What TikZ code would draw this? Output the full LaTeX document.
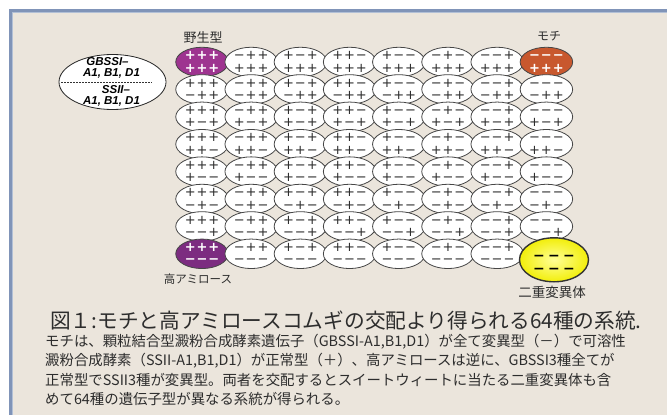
\documentclass[tikz,border=0pt]{standalone}
\usepackage{fontspec}
\setmainfont{Noto Sans CJK JP}
\newfontfamily\symf{DejaVu Sans}
\newfontfamily\keyf{Liberation Sans}
\usetikzlibrary{shapes.geometric}
\definecolor{bgc}{RGB}{235,229,220}
\definecolor{framec}{RGB}{128,148,184}
\definecolor{framelc}{RGB}{178,192,214}
\definecolor{wildc}{RGB}{158,52,144}
\definecolor{hac}{RGB}{124,44,128}
\definecolor{mochic}{RGB}{200,88,46}
\definecolor{yelc}{RGB}{242,238,10}
\definecolor{yelin}{RGB}{255,255,150}
\definecolor{edgec}{RGB}{70,70,70}
\definecolor{symc}{RGB}{45,45,45}
\definecolor{txtc}{RGB}{45,45,45}
\def\sgw{11.8pt}
\def\tlsep{12.4pt}
\def\tlraise{-10pt}
\newcommand\sg[1]{\makebox[\sgw]{\if#1p+\else−\fi}}
\newcommand\twoline[2]{\smash{\raisebox{\tlraise}{\vbox{\baselineskip=\tlsep\relax\lineskiplimit=-100pt\hbox{#1}\hbox{#2}}}}}
\tikzset{
  cell/.style={ellipse, draw=edgec, line width=0.8pt, fill=white, inner sep=0pt,
    minimum width=52.5pt, minimum height=29.5pt, text=symc,
    font=\symf\fontsize{13}{13}\selectfont},
  whitesym/.style={text=white, font=\symf\bfseries\fontsize{13}{13}\selectfont},
  st-0-0/.style={fill=wildc, whitesym},
  st-0-7/.style={fill=mochic, whitesym},
  st-7-0/.style={fill=hac, whitesym},
  st-7-7/.style={xshift=7.6pt, yshift=-6pt, minimum width=69pt, minimum height=44pt,
    line width=1.4pt, draw=black!80, inner color=yelin, outer color=yelc, text=black,
    font=\symf\bfseries\fontsize{14}{14}\selectfont,
    execute at begin node={\def\sgw{15pt}\def\tlsep{13.4pt}\def\tlraise{-13.6pt}}},
  lab/.style={text=txtc, inner sep=0pt},
  keytxt/.style={font=\keyf\bfseries\itshape\fontsize{11.5}{11.5}\selectfont, inner sep=0pt, text=black}
}
\begin{document}
\begin{tikzpicture}[x=1pt,y=-1pt]
\useasboundingbox (0,0) rectangle (667,415);
% frame
\fill[white] (0,0) rectangle (667,415);
\fill[bgc] (10,10) rectangle (667,415);
\draw[framec, line width=2.6pt] (10.3,415) -- (10.3,10.3) -- (667,10.3);
\draw[framelc, line width=0.8pt] (12.2,415) -- (12.2,12.2) -- (667,12.2);
% grid of 64 lines
\foreach \r/\ra/\rb/\rc in {0/p/p/p,1/m/p/p,2/p/m/p,3/p/p/m,4/p/m/m,5/m/p/m,6/m/m/p,7/m/m/m}{
  \foreach \c/\ca/\cb/\cc in {0/p/p/p,1/m/p/p,2/p/m/p,3/p/p/m,4/p/m/m,5/m/p/m,6/m/m/p,7/m/m/m}{
    \node[cell, st-\r-\c/.try] (n-\r-\c) at ({202+49.2*\c},{62+27.4*\r})
      {\twoline{\sg\ca\sg\cb\sg\cc}{\sg\ra\sg\rb\sg\rc}};
  }
}
% labels
\node[lab, font=\fontsize{13}{13}\selectfont] (lab-wild) at (203,38) {野生型};
\node[lab, font=\fontsize{12}{12}\selectfont] (lab-mochi) at (549,36) {モチ};
\node[lab, font=\fontsize{11.5}{11.5}\selectfont] (lab-ha) at (198,279) {高アミロース};
\node[lab, font=\fontsize{13.5}{13.5}\selectfont] (lab-dm) at (552,292) {二重変異体};
% key ellipse
\node[ellipse, draw=black!85, line width=0.8pt, fill=white, minimum width=107pt, minimum height=55pt, inner sep=0pt] (key) at (112.5,82) {};
\node[keytxt] (k1) at (107.5,61.5) {GBSSI–};
\node[keytxt] (k2) at (111.5,73.5) {A1, B1, D1};
\node[keytxt] (k3) at (116,90) {SSII–};
\node[keytxt] (k4) at (111.5,101.5) {A1, B1, D1};
\draw[black!80, dashed, dash pattern=on 1.5pt off 1.5pt, line width=0.6pt] ([xshift=2.5pt]key.west) -- ([xshift=-14pt]key.east);
% caption
\node[lab, anchor=west, font=\fontsize{20.7}{20.7}\selectfont] (title) at (50,321) {図１:モチと高アミロースコムギの交配より得られる64種の系統.};
\node[lab, anchor=west, font=\fontsize{14.4}{14.4}\selectfont] (b1) at (45,342) {モチは、顆粒結合型澱粉合成酵素遺伝子（GBSSI-A1,B1,D1）が全て変異型（－）で可溶性};
\node[lab, anchor=west, font=\fontsize{14.4}{14.4}\selectfont] (b2) at (45,361) {澱粉合成酵素（SSII-A1,B1,D1）が正常型（＋）、高アミロースは逆に、GBSSI3種全てが};
\node[lab, anchor=west, font=\fontsize{14.4}{14.4}\selectfont] (b3) at (45,380.5) {正常型でSSII3種が変異型。両者を交配するとスイートウィートに当たる二重変異体も含};
\node[lab, anchor=west, font=\fontsize{14.4}{14.4}\selectfont] (b4) at (45,399.5) {めて64種の遺伝子型が異なる系統が得られる。};
\end{tikzpicture}
\end{document}
